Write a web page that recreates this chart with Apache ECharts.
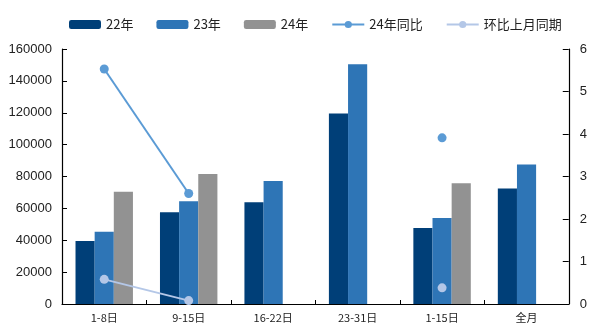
<!DOCTYPE html>
<html>
<head>
<meta charset="utf-8">
<script src="https://cdn.jsdelivr.net/npm/echarts@6/dist/echarts.min.js"></script>
<style>
  html, body { margin: 0; padding: 0; background: #fff; }
  #chart { width: 590px; height: 327px; }
</style>
</head>
<body>
<div id="chart"></div>
<script>
// Periods on the category axis
const categories = ['1-8日', '9-15日', '16-22日', '23-31日', '1-15日', '全月'];

// Volumes by year (left axis)
const y22 = [39500, 57500, 63800, 119600, 47700, 72400];
const y23 = [45300, 64400, 77200, 150400, 54000, 87600];
const y24 = [70400, 81500, null, null, 75700, null];

// Ratios (right axis)
const yoy24 = [5.53, 2.60, null, null, 3.91, null];
const momSame = [0.58, 0.08, null, null, 0.38, null];

// Right axis tick labels
const rightTicks = ['0', '1', '2', '3', '4', '5', '6'];

const txtFont = '"Noto Sans CJK SC", "Liberation Sans", sans-serif';
const numFont = '"Liberation Sans", Arial, sans-serif';

const chart = echarts.init(document.getElementById('chart'), null, { renderer: 'canvas' });

const axisLine = { show: true, lineStyle: { color: '#000', width: 1.2 } };

chart.setOption({
  animation: false,
  backgroundColor: '#fff',
  legend: {
    left: 64,
    top: 13,
    itemWidth: 32,
    itemHeight: 9,
    itemGap: 23,
    textStyle: { fontFamily: txtFont, fontSize: 13, color: '#222' },
    data: ['22年', '23年', '24年', '24年同比', '环比上月同期']
  },
  grid: { left: 62, right: 14, top: 49, bottom: 23, containLabel: false },
  xAxis: {
    type: 'category',
    data: categories,
    axisLine: axisLine,
    axisTick: { show: true, inside: true, length: 4, lineStyle: { color: '#000' } },
    axisLabel: { fontFamily: txtFont, fontSize: 11, color: '#222', margin: 8 }
  },
  yAxis: [
    {
      type: 'value', min: 0, max: 160000, interval: 20000,
      axisLine: axisLine,
      axisTick: { show: true, inside: true, length: 5, lineStyle: { color: '#000' } },
      splitLine: { show: false },
      axisLabel: {
        fontFamily: numFont, fontSize: 13, color: '#222', margin: 10,
        formatter: (v) => String(v)
      }
    },
    {
      type: 'value', min: 0, max: 6, interval: 1,
      axisLine: axisLine,
      axisTick: { show: true, inside: true, length: 6, lineStyle: { color: '#000' } },
      splitLine: { show: false },
      axisLabel: {
        fontFamily: numFont, fontSize: 13, color: '#222', margin: 11,
        formatter: (v) => rightTicks[Math.round(v)]
      }
    }
  ],
  series: [
    { name: '22年', type: 'bar', data: y22, barGap: '0%', barCategoryGap: '32%',
      itemStyle: { color: '#003f78' } },
    { name: '23年', type: 'bar', data: y23,
      itemStyle: { color: '#2e75b6' } },
    { name: '24年', type: 'bar', data: y24,
      itemStyle: { color: '#929292' } },
    { name: '24年同比', type: 'line', yAxisIndex: 1, data: yoy24,
      symbol: 'circle', symbolSize: 9, connectNulls: false,
      lineStyle: { color: '#5b9bd5', width: 2 }, itemStyle: { color: '#5b9bd5' } },
    { name: '环比上月同期', type: 'line', yAxisIndex: 1, data: momSame,
      symbol: 'circle', symbolSize: 9, connectNulls: false,
      lineStyle: { color: '#b4c7e7', width: 2 }, itemStyle: { color: '#b4c7e7' } }
  ]
});
</script>
</body>
</html>
